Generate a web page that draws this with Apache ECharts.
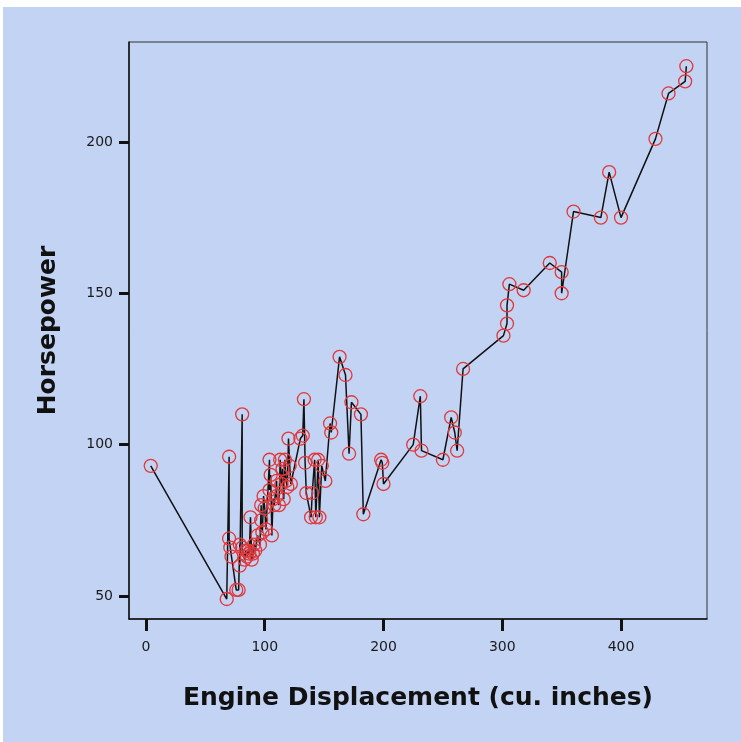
<!DOCTYPE html>
<html>
<head>
<meta charset="utf-8">
<title>Horsepower vs Engine Displacement</title>
<script src="https://cdn.jsdelivr.net/npm/echarts@6/dist/echarts.min.js"></script>
<style>
  html, body { margin: 0; padding: 0; background: #ffffff; }
  #chart { width: 741px; height: 742px; }
</style>
</head>
<body>
<div id="chart"></div>
<script>
// Engine displacement (cu. inches), in drawing order
const displacement = [
  4, 68, 70, 70, 71, 72, 76, 78, 79, 79,
  81, 81, 83, 84, 85, 86, 87, 88, 89, 90,
  91, 92, 94, 96, 97, 97, 98, 99, 100, 101,
  104, 104, 105, 106, 107, 108, 110, 110, 112, 113,
  114, 115, 116, 117, 118, 119, 120, 121, 122, 130,
  132, 133, 134, 135, 139, 140, 142, 143, 145, 146,
  148, 151, 155, 156, 163, 168, 171, 173, 181, 183,
  198, 199, 200, 225, 231, 232, 250, 257, 260, 262,
  267, 301, 304, 304, 306, 318, 340, 350, 350, 360,
  383, 390, 400, 429, 440, 454, 455
];
// Horsepower for each displacement above
const horsepower = [
  93, 49, 96, 69, 66, 63, 52, 52, 67, 60,
  110, 66, 62, 65, 63, 65, 64, 76, 62, 64,
  67, 65, 70, 67, 80, 75, 71, 83, 79, 72,
  95, 85, 90, 70, 82, 80, 88, 83, 80, 95,
  87, 92, 82, 95, 88, 86, 102, 93, 87, 102,
  103, 115, 94, 84, 76, 84, 95, 76, 95, 76,
  93, 88, 107, 104, 129, 123, 97, 114, 110, 77,
  95, 94, 87, 100, 116, 98, 95, 109, 104, 98,
  125, 136, 140, 146, 153, 151, 160, 157, 150, 177,
  175, 190, 175, 201, 216, 220, 225
];
const xTicks = [0, 100, 200, 300, 400];
const yTicks = [50, 100, 150, 200];

const points = displacement.map((d, i) => [d, horsepower[i]]);

const chart = echarts.init(document.getElementById('chart'), null, { renderer: 'canvas' });

const tickFont = { fontFamily: 'DejaVu Sans', fontSize: 14, color: '#1a1a1a' };
const titleFont = { fontFamily: 'DejaVu Sans', fontSize: 25, fontWeight: 'bold', color: '#111111' };

chart.setOption({
  animation: false,
  backgroundColor: '#c3d3f3',
  graphic: [
    { type: 'rect', left: 0, top: 0, shape: { width: 741, height: 7 }, style: { fill: '#ffffff' }, silent: true },
    { type: 'rect', left: 0, top: 0, shape: { width: 3, height: 742 }, style: { fill: '#ffffff' }, silent: true }
  ],
  grid: {
    left: 129, top: 42, right: 34, bottom: 123,
    show: true, borderColor: '#333333', borderWidth: 1,
    backgroundColor: 'transparent'
  },
  xAxis: {
    type: 'value',
    min: -14.3, max: 472.4,
    name: 'Engine Displacement (cu. inches)',
    nameLocation: 'middle',
    nameGap: 67,
    nameTextStyle: titleFont,
    axisLine: { show: true, onZero: false, lineStyle: { color: '#111111', width: 1.5 } },
    axisTick: { show: true, customValues: xTicks, length: 12, lineStyle: { color: '#111111', width: 3 } },
    axisLabel: { customValues: xTicks, margin: 21, ...tickFont },
    splitLine: { show: false }
  },
  yAxis: {
    type: 'value',
    min: 42.4, max: 233,
    name: 'Horsepower',
    nameLocation: 'middle',
    nameGap: 68,
    nameTextStyle: titleFont,
    axisLine: { show: true, onZero: false, lineStyle: { color: '#111111', width: 1.5 } },
    axisTick: { show: true, customValues: yTicks, length: 10, lineStyle: { color: '#111111', width: 3 } },
    axisLabel: { customValues: yTicks, margin: 16, ...tickFont },
    splitLine: { show: false }
  },
  series: [{
    type: 'line',
    data: points,
    showAllSymbol: true,
    symbol: 'circle',
    symbolSize: 13,
    lineStyle: { color: '#111111', width: 1.5 },
    itemStyle: { color: 'rgba(0,0,0,0)', borderColor: '#e0393b', borderWidth: 1.3 },
    emphasis: { disabled: true },
    z: 3
  }]
});
</script>
</body>
</html>
